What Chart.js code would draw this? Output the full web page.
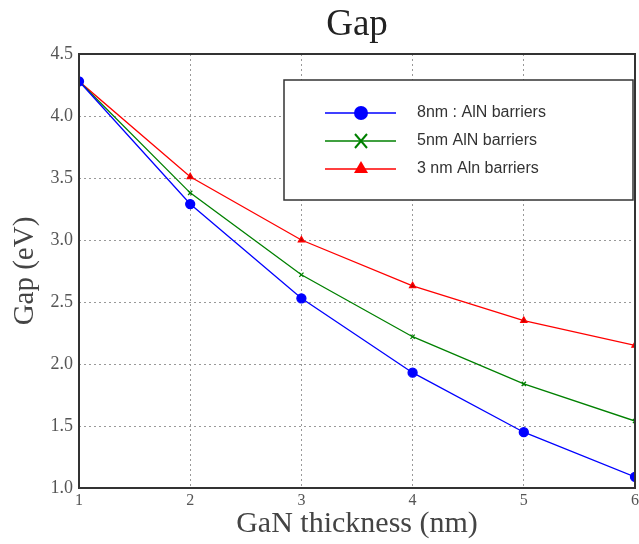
<!DOCTYPE html>
<html>
<head>
<meta charset="utf-8">
<script src="https://cdn.jsdelivr.net/npm/chart.js@4/dist/chart.umd.min.js"></script>
<style>
  html, body { margin: 0; padding: 0; background: #fff; overflow: hidden; }
  /* a bit wider than the window so the right frame sits at the edge, like the cropped original */
  #wrap { width: 642px; height: 544px; }
</style>
</head>
<body>
<div id="wrap"><canvas id="gapChart"></canvas></div>
<script>
const thickness = [1, 2, 3, 4, 5, 6];
const gap8nm = [4.28, 3.29, 2.53, 1.93, 1.45, 1.09];
const gap5nm = [4.28, 3.38, 2.72, 2.22, 1.84, 1.54];
const gap3nm = [4.28, 3.51, 3.00, 2.63, 2.35, 2.15];
const seriesLabels = ['8nm : AlN barriers', '5nm AlN barriers', '3 nm Aln barriers'];
const chartTitle = 'Gap';

const serif = "'Liberation Serif', 'DejaVu Serif', serif";
const sans = "'Liberation Sans', 'DejaVu Sans', sans-serif";

function toPoints(ys) {
    return thickness.map((x, i) => ({ x: x, y: ys[i] }));
}

// frame, title over the axes and boxed legend, like the matplotlib original
const framePlugin = {
    id: 'frame',
    afterDraw(chart) {
        const ctx = chart.ctx;
        const a = chart.chartArea;
        ctx.save();
        ctx.strokeStyle = '#333';
        ctx.lineWidth = 2;
        ctx.strokeRect(a.left, a.top, a.right - a.left, a.bottom - a.top);

        ctx.fillStyle = '#222';
        ctx.font = '37px ' + serif;
        ctx.textAlign = 'center';
        ctx.textBaseline = 'alphabetic';
        ctx.fillText(chartTitle, (a.left + a.right) / 2, 35);

        // legend box
        const bx = 284, by = 80, bw = 349, bh = 120;
        ctx.fillStyle = '#fff';
        ctx.fillRect(bx, by, bw, bh);
        ctx.lineWidth = 1.5;
        ctx.strokeStyle = '#333';
        ctx.strokeRect(bx, by, bw, bh);

        const rows = [113, 141, 169];
        chart.data.datasets.forEach((ds, i) => {
            const y = rows[i];
            ctx.strokeStyle = ds.borderColor;
            ctx.lineWidth = 1.5;
            ctx.beginPath();
            ctx.moveTo(325, y);
            ctx.lineTo(396, y);
            ctx.stroke();
            ctx.fillStyle = ds.borderColor;
            if (i === 0) {
                ctx.beginPath();
                ctx.arc(361, y, 7, 0, Math.PI * 2);
                ctx.fill();
            } else if (i === 1) {
                ctx.lineWidth = 2;
                ctx.beginPath();
                ctx.moveTo(355, y - 7); ctx.lineTo(367, y + 7);
                ctx.moveTo(367, y - 7); ctx.lineTo(355, y + 7);
                ctx.stroke();
            } else {
                ctx.beginPath();
                ctx.moveTo(361, y - 8);
                ctx.lineTo(368, y + 4);
                ctx.lineTo(354, y + 4);
                ctx.closePath();
                ctx.fill();
            }
            ctx.fillStyle = '#333';
            ctx.font = '16px ' + sans;
            ctx.textAlign = 'left';
            ctx.textBaseline = 'middle';
            ctx.fillText(ds.label, 417, y);
        });
        ctx.restore();
    }
};

const ctx = document.getElementById('gapChart').getContext('2d');
new Chart(ctx, {
    type: 'line',
    data: {
        datasets: [{
            label: seriesLabels[0],
            data: toPoints(gap8nm),
            borderColor: '#0000ff',
            backgroundColor: '#0000ff',
            borderWidth: 1.3,
            pointStyle: 'circle',
            pointRadius: 4.5,
            tension: 0
        }, {
            label: seriesLabels[1],
            data: toPoints(gap5nm),
            borderColor: '#008000',
            backgroundColor: '#008000',
            borderWidth: 1.3,
            pointStyle: 'crossRot',
            pointRadius: 3,
            pointBorderWidth: 1.3,
            tension: 0
        }, {
            label: seriesLabels[2],
            data: toPoints(gap3nm),
            borderColor: '#ff0000',
            backgroundColor: '#bb0000',
            borderWidth: 1.3,
            pointStyle: 'triangle',
            pointRadius: 3.5,
            tension: 0
        }]
    },
    options: {
        responsive: true,
        maintainAspectRatio: false,
        animation: false,
        layout: { padding: { left: 0, right: 0, top: 54, bottom: 0 } },
        plugins: {
            legend: { display: false },
            tooltip: { enabled: false },
            title: { display: false }
        },
        scales: {
            x: {
                type: 'linear',
                min: 1,
                max: 6,
                ticks: {
                    stepSize: 1,
                    color: '#555',
                    font: { family: serif, size: 16 },
                    padding: 3
                },
                grid: { color: '#999', lineWidth: 1, drawTicks: false },
                border: { display: false, dash: [2, 3] },
                title: {
                    display: true,
                    text: 'GaN thickness (nm)',
                    color: '#444',
                    font: { family: serif, size: 30 },
                    padding: { top: 0, bottom: 2 }
                },
                afterFit(scale) {
                    scale.height = 56;
                }
            },
            y: {
                min: 1,
                max: 4.5,
                ticks: {
                    stepSize: 0.5,
                    color: '#555',
                    font: { family: serif, size: 18 },
                    padding: 6,
                    callback: v => v.toFixed(1)
                },
                grid: { color: '#999', lineWidth: 1, drawTicks: false },
                border: { display: false, dash: [2, 3] },
                title: {
                    display: true,
                    text: 'Gap (eV)',
                    color: '#444',
                    font: { family: serif, size: 29 },
                    padding: { top: 8, bottom: 8 }
                },
                afterFit(scale) {
                    scale.width = 79;
                }
            }
        }
    },
    plugins: [framePlugin]
});
</script>
</body>
</html>
